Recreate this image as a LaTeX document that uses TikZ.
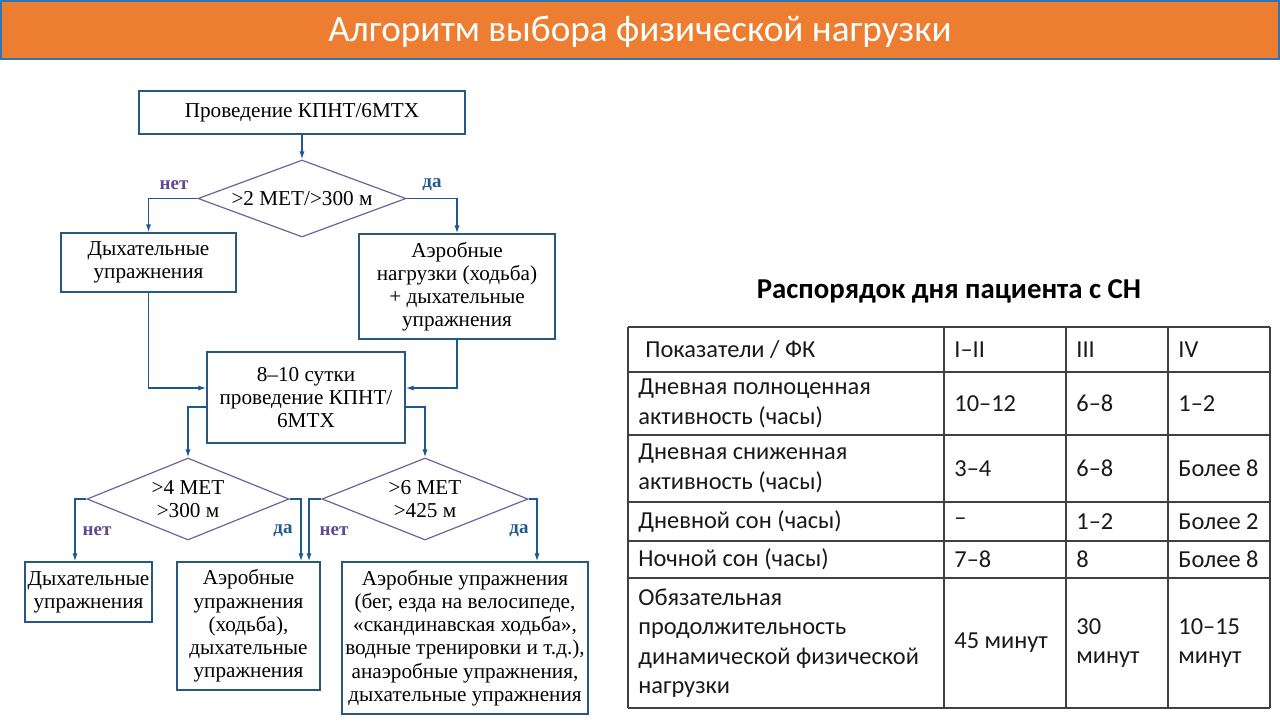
\documentclass[tikz,border=0pt]{standalone}
\usepackage{fontspec}
\setmainfont{Liberation Serif}
\newfontfamily\calibri{Carlito}
\usetikzlibrary{shapes.geometric,arrows.meta}

\begin{document}
\begin{tikzpicture}[x=0.5pt,y=-0.5pt,
    box/.style={draw=boxcolor, line width=0.7pt, align=center, inner sep=0pt, font=\fontsize{10.6pt}{11.6pt}\selectfont},
    decision/.style={diamond, draw=decisioncolor, line width=0.6pt, align=center, inner sep=0pt, font=\fontsize{10.6pt}{11.6pt}\selectfont},
    flow/.style={draw=flowcolor, line width=0.7pt, -{Latex[length=4pt,width=2.6pt]}},
    nolabel/.style={text=nocolor, font=\bfseries\fontsize{9.5pt}{11pt}\selectfont},
    yeslabel/.style={text=yescolor, font=\bfseries\fontsize{9.5pt}{11pt}\selectfont},
    cell/.style={anchor=west, align=left, inner sep=0pt, text=black!90, font=\calibri\fontsize{12.2pt}{14.7pt}\selectfont},
    tableline/.style={draw=black!75, line width=0.6pt}]
    \useasboundingbox (0,0) rectangle (1280,720);

    \definecolor{headcolor}{RGB}{237,125,49}
    \definecolor{headline}{RGB}{46,117,182}
    \definecolor{boxcolor}{RGB}{40,88,128}
    \definecolor{decisioncolor}{RGB}{112,96,160}
    \definecolor{flowcolor}{RGB}{30,88,145}
    \definecolor{nocolor}{RGB}{94,74,148}
    \definecolor{yescolor}{RGB}{31,90,140}

    % Header band
    \filldraw[fill=headcolor, draw=headline, line width=0.6pt] (1,1) rectangle (1279,59);
    \node[text=white, font=\calibri\fontsize{18.6pt}{20pt}\selectfont] (title) at (640,32) {Алгоритм выбора физической нагрузки};

    % Flowchart: first test
    \node[box, minimum width=163pt, minimum height=21.5pt] (plan) at (302,112.5) {Проведение КПНТ/6МТХ};
    \node[decision, aspect=2.7, minimum width=104pt, minimum height=38.5pt] (test1) at (302,198.5) {>2 МЕТ/>300 м};
    \node[box, minimum width=87.5pt, minimum height=29.5pt] (breath1) at (148.5,262.5) {Дыхательные\\упражнения};
    \node[box, minimum width=98pt, minimum height=52.5pt] (aero1) at (457,286.5) {Аэробные\\нагрузки (ходьба)\\+ дыхательные\\упражнения};
    \node[nolabel] (no1) at (174,185) {нет};
    \node[yeslabel] (yes1) at (432,185) {да};

    % Flowchart: retest after 8-10 days
    \node[box, minimum width=99pt, minimum height=45.5pt] (retest) at (306,397.5) {8–10 сутки\\проведение КПНТ/\\6МТХ};
    \node[decision, aspect=2.46, minimum width=101pt, minimum height=41pt] (test2) at (188,499) {>4 МЕТ\\>300 м};
    \node[decision, aspect=2.5, minimum width=103pt, minimum height=41pt] (test3) at (425,499) {>6 МЕТ\\>425 м};
    \node[nolabel] (no2) at (97,531) {нет};
    \node[yeslabel] (yes2) at (283,531) {да};
    \node[nolabel] (no3) at (334,531) {нет};
    \node[yeslabel] (yes3) at (519,531) {да};

    \node[box, minimum width=63.5pt, minimum height=30pt] (breath2) at (88.5,592) {Дыхательные\\упражнения};
    \node[box, minimum width=71.5pt, minimum height=64pt] (aero2) at (248.5,626) {Аэробные\\упражнения\\(ходьба),\\дыхательные\\упражнения};
    \node[box, minimum width=123pt, minimum height=76pt] (aero3) at (465,638) {Аэробные упражнения\\(бег, езда на велосипеде,\\«скандинавская ходьба»,\\водные тренировки и т.д.),\\анаэробные упражнения,\\дыхательные упражнения};

    \coordinate (turn2l) at (75,499);
    \coordinate (turn2r) at (301,499);
    \coordinate (turn3l) at (309,499);
    \coordinate (turn3r) at (537,499);

    % Connectors
    \draw[flow] (plan) -- (test1);
    \draw[flow] (test1.west) -| (breath1.north);
    \draw[flow] (test1.east) -| (aero1.north);
    \draw[flow] (breath1.south) |- ([yshift=4.75pt]retest.west);
    \draw[flow] (aero1.south) |- ([yshift=4.75pt]retest.east);
    \draw[flow] ([yshift=-4.75pt]retest.west) -| (test2.north);
    \draw[flow] ([yshift=-4.75pt]retest.east) -| (test3.north);
    \draw[flow] (test2.west) -- (turn2l) -- (turn2l |- breath2.north);
    \draw[flow] (test2.east) -- (turn2r) -- (turn2r |- aero2.north);
    \draw[flow] (test3.west) -- (turn3l) -- (turn3l |- aero2.north);
    \draw[flow] (test3.east) -- (turn3r) -- (turn3r |- aero3.north);

    % Table
    \node[text=black, font=\calibri\bfseries\fontsize{14.4pt}{16pt}\selectfont] (tabtitle) at (949,291) {Распорядок дня пациента с СН};
    \foreach \y in {327,372,435,502,541,578,708} \draw[tableline] (628,\y) -- (1270,\y);
    \foreach \x in {628,944,1066,1168,1270} \draw[tableline] (\x,327) -- (\x,708);

    \node[cell] (head1) at (645,349.5) {Показатели / ФК};
    \node[cell] (head2) at (954,349.5) {I–II};
    \node[cell] (head3) at (1076,349.5) {III};
    \node[cell] (head4) at (1178,349.5) {IV};
    \foreach \r/\y/\what/\one/\two/\three in {
        1/403.5/{Дневная полноценная\\активность (часы)}/{10–12}/{6–8}/{1–2},
        2/468.5/{Дневная сниженная\\активность (часы)}/{3–4}/{6–8}/{Более 8},
        3/521.5/{Дневной сон (часы)}/{–}/{1–2}/{Более 2},
        4/559.5/{Ночной сон (часы)}/{7–8}/{8}/{Более 8},
        5/643/{Обязательная\\продолжительность\\динамической физической\\нагрузки}/{45 минут}/{30\\минут}/{10–15\\минут}} {
      \node[cell] (row\r a) at (638,\y) {\what};
      \node[cell] (row\r b) at (954,\y) {\one};
      \node[cell] (row\r c) at (1076,\y) {\two};
      \node[cell] (row\r d) at (1178,\y) {\three};
    }
\end{tikzpicture}
\end{document}
